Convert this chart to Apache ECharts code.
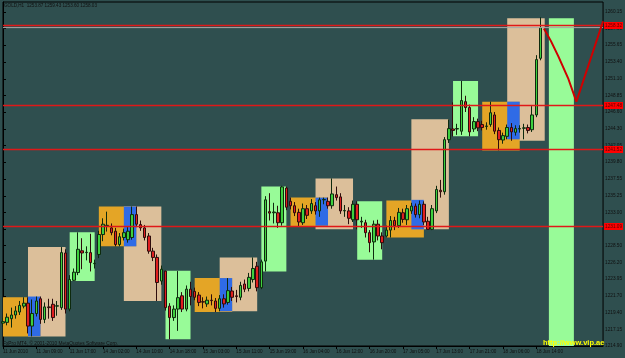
<!DOCTYPE html>
<html>
<head>
<meta charset="utf-8">
<title>GOLD,H1</title>
<script src="https://cdn.jsdelivr.net/npm/echarts@6/dist/echarts.min.js"></script>
<style>
  html, body { margin: 0; padding: 0; background: #2f4f4f; }
  #main { width: 625px; height: 358px; }
</style>
</head>
<body>
<div id="main"></div>
<script>
// hourly bars, one category per bar (future bars on the right are empty)
const barCount = 145;
const labelStep = 8;
const timeLabels = ['11 Jun 2010', '11 Jun 09:00', '11 Jun 17:00', '14 Jun 02:00', '14 Jun 10:00',
  '14 Jun 18:00', '15 Jun 03:00', '15 Jun 11:00', '15 Jun 19:00', '16 Jun 04:00', '16 Jun 12:00',
  '16 Jun 20:00', '17 Jun 05:00', '17 Jun 13:00', '17 Jun 21:00', '18 Jun 06:00', '18 Jun 14:00'];

const yTicks = [1214.90, 1217.15, 1219.40, 1221.70, 1223.95, 1226.20, 1228.50, 1230.75, 1233.00,
  1235.25, 1237.55, 1239.80, 1242.05, 1244.30, 1246.60, 1248.85, 1251.10, 1253.40, 1255.65,
  1257.90, 1260.15];

// [open, close, low, high]
const candles = [
  [1218.0, 1218.2, 1217.5, 1218.7], [1218.1, 1218.8, 1217.7, 1219.3], [1218.6, 1219.1, 1217.4, 1220.1],
  [1219.1, 1219.65, 1218.6, 1220.3], [1219.5, 1220.4, 1219.1, 1221.0], [1220.3, 1220.7, 1220.0, 1221.5],
  [1220.7, 1217.6, 1216.6, 1221.5], [1217.6, 1219.3, 1216.2, 1221.2], [1219.3, 1221.0, 1218.9, 1221.6],
  [1221.3, 1218.5, 1217.9, 1221.6], [1218.5, 1220.2, 1218.0, 1220.8], [1220.2, 1220.1, 1218.6, 1221.3],
  [1220.55, 1218.75, 1218.3, 1221.3], [1220.3, 1220.35, 1219.0, 1221.0], [1220.1, 1227.55, 1219.8, 1228.3],
  [1227.5, 1219.9, 1219.3, 1228.0], [1219.9, 1223.9, 1219.6, 1224.5], [1223.8, 1224.9, 1223.7, 1225.4],
  [1224.85, 1228.0, 1224.5, 1230.3], [1227.8, 1227.5, 1225.3, 1229.5], [1227.55, 1227.6, 1226.5, 1228.4],
  [1227.55, 1226.2, 1225.0, 1230.1], [1226.05, 1226.1, 1225.4, 1226.6], [1227.3, 1230.0, 1226.8, 1230.5],
  [1230.0, 1231.4, 1229.1, 1232.2], [1231.2, 1231.25, 1230.4, 1233.1], [1230.9, 1230.25, 1229.9, 1231.5],
  [1230.45, 1228.65, 1228.4, 1230.9], [1228.65, 1229.7, 1228.4, 1230.2], [1229.6, 1230.25, 1229.2, 1230.8],
  [1229.3, 1230.45, 1228.9, 1231.0], [1229.6, 1232.7, 1229.3, 1233.8], [1232.7, 1231.4, 1231.0, 1233.8],
  [1231.35, 1230.9, 1230.5, 1231.9], [1230.9, 1229.6, 1229.2, 1231.3], [1229.8, 1227.75, 1227.4, 1230.2],
  [1227.75, 1226.9, 1226.4, 1228.2], [1226.9, 1223.5, 1221.0, 1227.3], [1223.7, 1225.3, 1223.2, 1225.8],
  [1225.05, 1220.1, 1219.7, 1225.1], [1220.3, 1218.75, 1215.8, 1220.7], [1218.75, 1219.9, 1218.3, 1220.4],
  [1219.9, 1221.45, 1216.95, 1225.05], [1221.7, 1219.9, 1219.5, 1222.2], [1219.9, 1222.6, 1219.6, 1223.1],
  [1222.6, 1221.6, 1220.4, 1223.6], [1222.3, 1221.5, 1221.1, 1222.8], [1221.8, 1220.8, 1220.3, 1222.2],
  [1220.9, 1220.85, 1220.0, 1221.5], [1220.6, 1221.1, 1220.2, 1221.6], [1221.1, 1221.05, 1220.4, 1221.9],
  [1221.0, 1220.0, 1219.5, 1221.4], [1220.0, 1221.3, 1219.6, 1221.8], [1221.3, 1220.6, 1220.1, 1221.9],
  [1220.8, 1222.4, 1220.5, 1224.1], [1222.35, 1221.5, 1221.0, 1222.9], [1221.7, 1221.6, 1220.8, 1222.5],
  [1221.5, 1223.1, 1221.1, 1223.6], [1223.3, 1222.6, 1222.2, 1223.9], [1222.7, 1224.2, 1222.3, 1224.8],
  [1223.9, 1225.4, 1223.5, 1226.9], [1225.7, 1222.8, 1222.3, 1226.3], [1222.8, 1226.3, 1222.6, 1226.6],
  [1226.4, 1234.7, 1225.0, 1235.2], [1233.1, 1232.9, 1231.9, 1235.6], [1232.95, 1233.05, 1231.5, 1234.3],
  [1232.95, 1231.6, 1230.9, 1233.9], [1231.6, 1236.45, 1231.2, 1236.6], [1236.3, 1233.7, 1233.3, 1236.5],
  [1234.5, 1233.9, 1233.4, 1235.0], [1233.9, 1232.95, 1232.5, 1234.4], [1233.0, 1231.7, 1231.1, 1233.5],
  [1231.6, 1233.5, 1231.3, 1234.2], [1233.5, 1232.6, 1232.1, 1234.0], [1233.2, 1234.2, 1232.8, 1234.8],
  [1233.9, 1233.2, 1232.7, 1234.4], [1233.2, 1234.7, 1232.4, 1235.0], [1234.7, 1234.75, 1234.1, 1235.0],
  [1234.5, 1233.9, 1233.5, 1235.0], [1233.9, 1235.5, 1233.5, 1237.6], [1235.4, 1235.0, 1234.6, 1236.5],
  [1235.1, 1233.2, 1232.8, 1235.6], [1233.2, 1233.25, 1232.4, 1234.0], [1233.2, 1232.2, 1231.4, 1233.7],
  [1232.0, 1234.1, 1231.7, 1234.6], [1234.1, 1232.0, 1230.7, 1234.5], [1231.7, 1231.8, 1230.9, 1232.4],
  [1231.6, 1230.25, 1229.6, 1232.0], [1230.25, 1228.9, 1227.6, 1230.6], [1229.0, 1231.4, 1226.6, 1231.9],
  [1231.4, 1229.8, 1229.2, 1232.0], [1229.8, 1228.9, 1228.0, 1230.3], [1229.8, 1230.6, 1229.6, 1231.2],
  [1230.6, 1231.9, 1229.6, 1232.5], [1231.9, 1231.2, 1230.6, 1232.4], [1231.2, 1233.0, 1230.9, 1233.6],
  [1232.95, 1232.05, 1231.6, 1233.5], [1232.0, 1233.5, 1231.3, 1234.0], [1233.2, 1233.85, 1232.8, 1234.3],
  [1233.85, 1232.7, 1232.3, 1234.2], [1232.7, 1234.1, 1232.2, 1234.6], [1234.1, 1231.7, 1231.3, 1234.5],
  [1231.8, 1230.7, 1230.7, 1232.4], [1230.7, 1233.5, 1230.6, 1234.0], [1233.2, 1236.1, 1232.9, 1236.6],
  [1236.0, 1235.8, 1235.0, 1237.4], [1235.8, 1242.85, 1235.4, 1243.2], [1242.85, 1244.35, 1242.4, 1245.6],
  [1244.3, 1244.1, 1243.3, 1247.9], [1244.3, 1244.35, 1243.5, 1245.0], [1244.0, 1248.15, 1243.5, 1250.8],
  [1248.0, 1247.2, 1246.6, 1248.8], [1247.2, 1243.9, 1243.3, 1247.6], [1244.3, 1245.3, 1243.9, 1245.9],
  [1245.3, 1244.45, 1244.0, 1245.7], [1244.9, 1244.5, 1244.1, 1245.4], [1244.65, 1244.7, 1244.2, 1245.2],
  [1244.9, 1246.5, 1244.6, 1248.0], [1246.2, 1244.0, 1243.6, 1246.6], [1244.1, 1242.85, 1241.4, 1244.5],
  [1242.8, 1243.4, 1242.3, 1243.8], [1243.3, 1244.5, 1242.9, 1244.9], [1244.5, 1243.9, 1242.7, 1245.1],
  [1243.85, 1244.35, 1243.4, 1244.8], [1244.3, 1244.35, 1243.8, 1244.8], [1244.4, 1244.45, 1242.9, 1245.0],
  [1244.5, 1244.1, 1243.7, 1244.9], [1244.2, 1246.2, 1243.9, 1247.4], [1246.2, 1253.7, 1245.9, 1254.3],
  [1253.87, 1258.03, 1253.60, 1259.43]
];

// session rectangles: [fromBar, toBar, low, high]
const asiaBoxes = [[-1, 9, 1216.2, 1221.5], [23, 32, 1228.4, 1233.8], [46, 55, 1219.5, 1224.1],
  [69, 78, 1231.1, 1235.0], [92, 101, 1229.6, 1234.6], [115, 124, 1241.4, 1248.0]];
const londonBoxes = [[6, 15, 1216.2, 1228.3], [29, 38, 1221.0, 1233.8], [52, 61, 1219.6, 1226.9],
  [75, 84, 1230.7, 1237.6], [98, 107, 1230.7, 1245.6], [121, 130, 1242.7, 1259.3]];
const openBoxes = [[6, 9, 1216.2, 1221.6], [29, 32, 1228.4, 1233.8], [52, 55, 1219.6, 1224.1],
  [75, 78, 1231.2, 1235.0], [98, 101, 1230.7, 1234.7], [121, 124, 1242.9, 1248.0]];
const newYorkBoxes = [[16, 22, 1223.7, 1230.3], [39, 45, 1215.8, 1225.1], [62, 68, 1225.0, 1236.5],
  [85, 91, 1226.6, 1234.5], [108, 114, 1243.3, 1250.8], [131, 137, 1214.9, 1259.3]];

const levels = [1258.32, 1247.48, 1241.52, 1231.09];
const bidPrice = 1258.03;
const forecast = [[129.8, 1257.9], [131.5, 1256.2], [133.3, 1254.1], [135.6, 1251.2], [137.6, 1248.0], [144, 1258.9]];

const font = 'Liberation Sans, DejaVu Sans, sans-serif';
const categories = Array.from({length: barCount}, (_, i) => i);
const showTick = (i) => i % labelStep === 0 && i / labelStep < timeLabels.length;

function boxSeries(boxes, color, z) {
  return {
    type: 'custom',
    xAxisIndex: 1,
    z: z,
    silent: true,
    data: boxes,
    encode: {x: [0, 1], y: [2, 3]},
    renderItem: function (params, api) {
      var p0 = api.coord([api.value(0), api.value(3)]);
      var p1 = api.coord([api.value(1), api.value(2)]);
      var shape = echarts.graphic.clipRectByRect(
        {x: p0[0], y: p0[1], width: p1[0] - p0[0], height: p1[1] - p0[1]},
        {x: params.coordSys.x, y: params.coordSys.y, width: params.coordSys.width, height: params.coordSys.height}
      );
      return shape && {type: 'rect', shape: shape, style: {fill: color}};
    }
  };
}

// horizontal price level drawn across the whole chart, with its price tag on the axis
function levelSeries(value, color, width, withLabel) {
  return {
    type: 'line',
    xAxisIndex: 1,
    data: [[0, value], [barCount - 1, value]],
    symbol: 'none',
    silent: true,
    z: 4,
    lineStyle: {color: color, width: width},
    endLabel: {
      show: withLabel,
      formatter: function () { return value.toFixed(2); },
      distance: 1,
      backgroundColor: '#ff0000', color: '#5a0000', padding: [1, 1],
      fontSize: 4.7, fontFamily: font
    }
  };
}

var myChart = echarts.init(document.getElementById('main'));
var option = {
  backgroundColor: '#2f4f4f',
  animation: false,
  grid: {left: 2, right: 20, top: 2, bottom: 12, show: true, borderColor: '#000', borderWidth: 1},
  xAxis: [
    {
      type: 'category',
      data: categories,
      boundaryGap: false,
      axisLine: {lineStyle: {color: '#000'}},
      axisTick: {interval: showTick, length: 3, lineStyle: {color: '#000'}},
      axisLabel: {
        interval: showTick,
        formatter: function (v, i) { return timeLabels[i / labelStep] || ''; },
        align: 'left', fontSize: 4.6, color: '#101010', margin: 3, fontFamily: font
      },
      splitLine: {show: false}
    },
    {type: 'value', min: 0, max: barCount - 1, show: false}
  ],
  yAxis: {
    type: 'value',
    position: 'right',
    min: 1214.9,
    max: 1261.5,
    axisLine: {show: true, lineStyle: {color: '#000'}},
    axisTick: {show: true, customValues: yTicks, length: 3, lineStyle: {color: '#000'}},
    axisLabel: {
      customValues: yTicks,
      formatter: function (v) { return v.toFixed(2); },
      fontSize: 4.7, color: '#101010', margin: 2, fontFamily: font
    },
    splitLine: {show: false}
  },
  series: [
    boxSeries(londonBoxes, '#dcbf9a', 1),
    boxSeries(asiaBoxes, '#e4a526', 1.1),
    boxSeries(openBoxes, '#2f6be6', 1.2),
    boxSeries(newYorkBoxes, '#98fb98', 1.3),
    {
      type: 'candlestick',
      data: candles,
      barWidth: 3,
      z: 3,
      itemStyle: {
        color: '#3ed03e', color0: '#e02020',
        borderColor: '#0e2a0e', borderColor0: '#2e0c0c', borderWidth: 1
      }
    },
    levelSeries(bidPrice, '#a8a8a8', 1, false)
  ].concat(levels.map(function (v) { return levelSeries(v, '#e01818', 1.5, true); }))
   .concat([{
      type: 'line',
      xAxisIndex: 1,
      data: forecast,
      symbol: 'none',
      z: 5,
      lineStyle: {color: '#d00000', width: 2}
    }]),
  graphic: [
    {type: 'text', left: 4, top: 3, z: 100,
      style: {text: 'GOLD,H1  1253.87 1259.43 1253.60 1258.03', fontSize: 4.6, fill: '#101010', fontFamily: font}},
    {type: 'text', left: 3, top: 341, z: 100,
      style: {text: 'FxPro MT4, \u00a9 2001-2010 MetaQuotes Software Corp.', fontSize: 4.8, fill: '#101010', fontFamily: font}},
    {type: 'text', left: 543, top: 339, z: 100,
      style: {text: 'http://www.vip.ae', fontSize: 7.5, fontWeight: 'bold', fill: '#ffff00', fontFamily: font}}
  ]
};

option && myChart.setOption(option);
</script>
</body>
</html>
